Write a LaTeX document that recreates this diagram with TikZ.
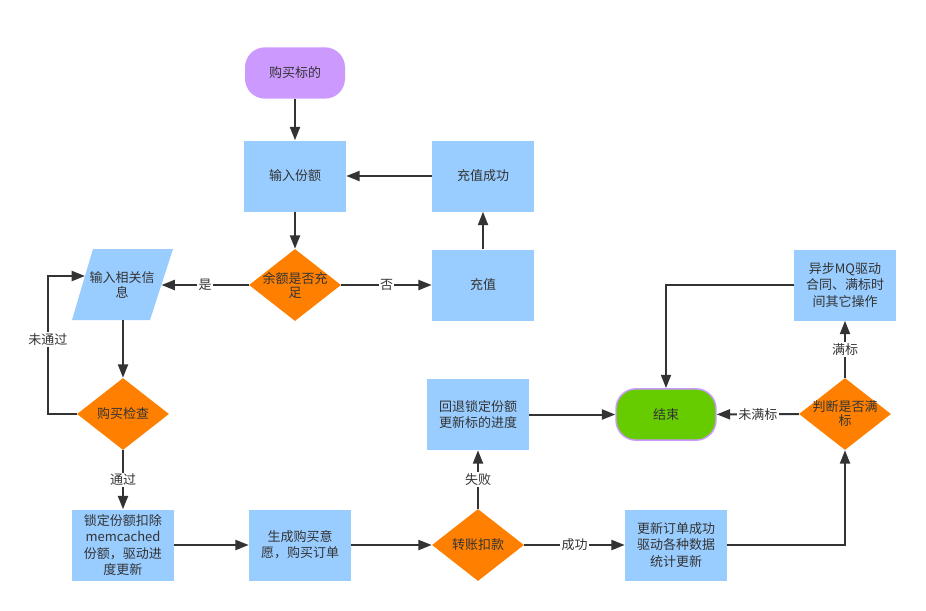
\documentclass[tikz,border=0pt]{standalone}
\usepackage{fontspec}
\newfontfamily\cjk{Noto Sans CJK SC}
\usetikzlibrary{shapes.geometric,arrows.meta}
\definecolor{boxblue}{HTML}{99CCFF}
\definecolor{dorange}{HTML}{FF8000}
\definecolor{tpurple}{HTML}{CC99FF}
\definecolor{egreen}{HTML}{66CC00}
\definecolor{ink}{HTML}{333333}
\tikzset{
 base/.style={font=\cjk\fontsize{9.75}{10.5}\selectfont, text=ink, align=center, inner sep=0pt},
 multi/.style={font=\cjk\fontsize{9.75}{12.3}\selectfont},
 proc/.style={base, fill=boxblue, minimum width=76.5pt, minimum height=53.25pt},
 dec/.style={base, diamond, fill=dorange, minimum width=69pt, minimum height=54pt},
 term/.style={base, rounded corners=15pt, minimum width=75pt, minimum height=38.5pt},
 conn/.style={draw=ink, line width=1.5pt, -{Triangle[length=10pt,width=7.5pt]}},
 lab/.style={base, fill=white, inner sep=1pt},
}
\begin{document}
\begin{tikzpicture}[x=0.75pt,y=-0.75pt]
\fill[white] (0,0) rectangle (926,611);
\useasboundingbox (0,0) rectangle (926,611);
% parallelogram
\fill[boxblue] (93,249) -- (173,249) -- (150,320) -- (72,320) -- cycle;
\node[base, font=\cjk\fontsize{9.75}{11}\selectfont] (info) at (122,285) {输入相关信\\息};
\coordinate (pR) at (161.5,285);
\coordinate (pL) at (85,276);
\coordinate (infoS) at (123,320);
\coordinate (fb) at (48,276);

\node[term, fill=tpurple] (start) at (295,73) {购买标的};
\node[proc] (inp) at (295,176) {输入份额};
\node[proc] (ok) at (483,176) {充值成功};
\node[dec, label={[base]center:余额是否充\\足}] (d1) at (295,285) {};
\node[proc] (chg) at (483,285) {充值};
\node[dec, label={[base]center:购买检查}] (chk) at (123,414) {};
\node[proc, multi] (lock) at (123,545) {锁定份额扣除\\memcached\\份额，驱动进\\度更新};
\node[proc, font=\cjk\fontsize{9.75}{12}\selectfont] (gen) at (300,545) {生成购买意\\愿，购买订单};
\node[dec, label={[base]center:转账扣款}] (pay) at (478,545) {};
\node[proc, multi] (upd) at (676,545) {更新订单成功\\驱动各种数据\\统计更新};
\node[proc, multi] (back) at (478,414.5) {回退锁定份额\\更新标的进度};
\node[term, fill=egreen, draw=tpurple, line width=1.1pt] (endn) at (666,414.5) {结束};
\node[dec, label={[base]center:判断是否满\\标}] (full) at (845,414) {};
\node[proc, multi] (mq) at (845,285) {异步MQ驱动\\合同、满标时\\间其它操作};

\draw[conn] (start) -- (inp);
\draw[conn] (inp) -- (d1);
\draw[conn] (d1.west) -- node[lab]{是} (pR);
\draw[conn] (d1.east) -- node[lab]{否} (chg.west);
\draw[conn] (chg) -- (ok);
\draw[conn] (ok) -- (inp);
\draw[conn] (infoS) -- (chk.north);
\draw[conn] (chk.west) -| node[lab, pos=0.77]{未通过} (fb) -- (pL);
\draw[conn] (chk) -- node[lab]{通过} (lock);
\draw[conn] (lock) -- (gen);
\draw[conn] (gen) -- (pay);
\draw[conn] (pay) -- node[lab]{成功} (upd);
\draw[conn] (pay) -- node[lab]{失败} (back);
\draw[conn] (back) -- (endn);
\draw[conn] (upd.east) -| (full.south);
\draw[conn] (full) -- node[lab]{未满标} (endn);
\draw[conn] (full) -- node[lab]{满标} (mq);
\draw[conn] (mq.west) -| (endn.north);
\end{tikzpicture}
\end{document}
